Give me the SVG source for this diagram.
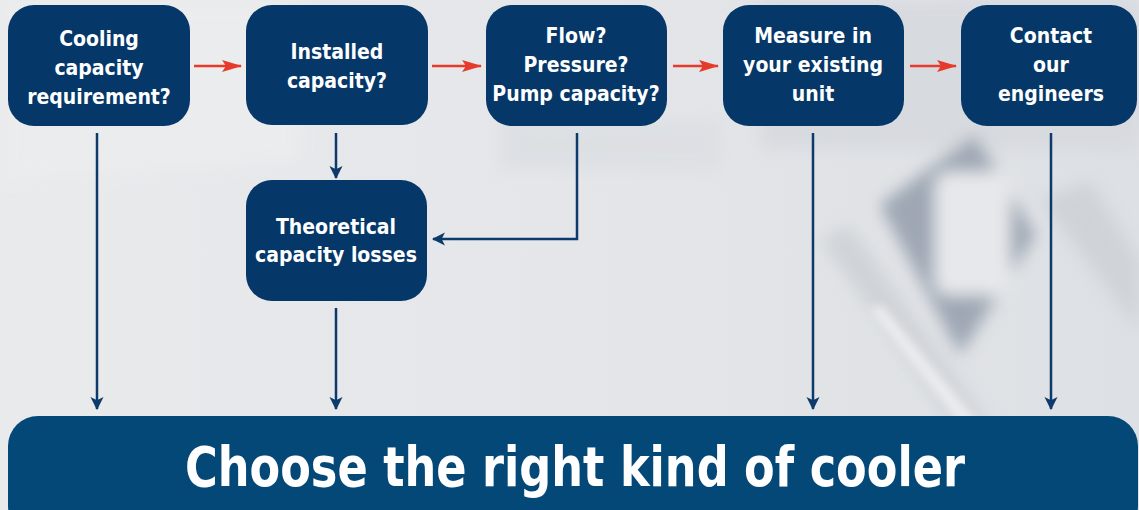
<svg xmlns="http://www.w3.org/2000/svg" width="1139" height="510" viewBox="0 0 1139 510">
<defs>
<linearGradient id="bg" x1="0" y1="0" x2="1" y2="0">
<stop offset="0" stop-color="#e9eaec"/>
<stop offset="0.5" stop-color="#e4e6e9"/>
<stop offset="1" stop-color="#dde0e4"/>
</linearGradient>
<filter id="blur" x="-20%" y="-20%" width="140%" height="140%"><feGaussianBlur stdDeviation="8"/></filter>
<filter id="blur2" x="-20%" y="-20%" width="140%" height="140%"><feGaussianBlur stdDeviation="4"/></filter>
<marker id="ab" viewBox="0 0 12 20" refX="11" refY="10" markerWidth="13" markerHeight="22" markerUnits="userSpaceOnUse" orient="auto">
<path d="M0,4 L12,10 L0,16 L3,10 Z" fill="#0d3a6b"/>
</marker>
<marker id="ar" viewBox="0 0 20 12" refX="19" refY="6" markerWidth="20" markerHeight="12" markerUnits="userSpaceOnUse" orient="auto">
<path d="M0,0 L20,6 L0,12 L4,6 Z" fill="#e63a2b"/>
</marker>
<style>
.node rect{fill:#053768}
.node text{fill:#ffffff;font-family:"DejaVu Sans Condensed","DejaVu Sans",sans-serif;font-stretch:condensed;font-weight:bold;font-size:21px;text-anchor:middle}
.blue{stroke:#0d3a6b;stroke-width:2.5;fill:none;marker-end:url(#ab)}
.red{stroke:#e63a2b;stroke-width:2.5;fill:none;marker-end:url(#ar)}
</style>
</defs>
<rect width="1139" height="510" fill="url(#bg)"/>
<g filter="url(#blur)" opacity="0.85">
<rect x="500" y="120" width="220" height="50" fill="#dcdfe3"/>
<rect x="760" y="0" width="379" height="150" fill="#d6d9de"/>
<polygon points="880,205 975,135 1035,235 960,355" fill="#939dab"/>
<rect x="935" y="172" width="75" height="123" rx="14" fill="#e8eaed"/>
<polygon points="820,240 850,225 990,425 955,430" fill="#cdd1d6"/>
<polygon points="1040,200 1090,180 1139,260 1139,330" fill="#cdd1d6"/>
<polygon points="0,0 300,0 300,160 0,180" fill="#ecedee"/>
</g>
<g filter="url(#blur2)" opacity="0.8">
<polygon points="870,310 882,305 985,430 968,435" fill="#f0f1f3"/>
</g>
<g id="connectors">
<line class="red" x1="194" y1="66" x2="241" y2="66"/>
<line class="red" x1="432" y1="66" x2="481" y2="66"/>
<line class="red" x1="673" y1="66" x2="718" y2="66"/>
<line class="red" x1="910" y1="66" x2="956" y2="66"/>
<line class="blue" x1="97" y1="133" x2="97" y2="409"/>
<line class="blue" x1="336" y1="133" x2="336" y2="178"/>
<line class="blue" x1="336" y1="308" x2="336" y2="409"/>
<polyline class="blue" points="577,133 577,239 433,239"/>
<line class="blue" x1="813" y1="133" x2="813" y2="409"/>
<line class="blue" x1="1051" y1="133" x2="1051" y2="409"/>
</g>
<g id="n1" class="node">
<rect x="8" y="5" width="182" height="121" rx="26"/>
<text x="99" y="46">Cooling</text>
<text x="99" y="75">capacity</text>
<text x="99" y="104">requirement?</text>
</g>
<g id="n2" class="node">
<rect x="246" y="5" width="182" height="120" rx="26"/>
<text x="337" y="59">Installed</text>
<text x="337" y="88">capacity?</text>
</g>
<g id="n3" class="node">
<rect x="486" y="5" width="181" height="121" rx="26"/>
<text x="576" y="43">Flow?</text>
<text x="576" y="72">Pressure?</text>
<text x="576" y="101">Pump capacity?</text>
</g>
<g id="n4" class="node">
<rect x="723" y="5" width="181" height="121" rx="26"/>
<text x="813" y="43">Measure in</text>
<text x="813" y="72">your existing</text>
<text x="813" y="101">unit</text>
</g>
<g id="n5" class="node">
<rect x="961" y="5" width="176" height="121" rx="26"/>
<text x="1051" y="43">Contact</text>
<text x="1051" y="72">our</text>
<text x="1051" y="101">engineers</text>
</g>
<g id="n6" class="node">
<rect x="246" y="180" width="181" height="121" rx="26"/>
<text x="336" y="234">Theoretical</text>
<text x="336" y="262">capacity losses</text>
</g>
<g id="n7">
<rect x="8" y="416" width="1130" height="120" rx="30" fill="#044878"/>
<text x="575" y="486" fill="#ffffff" font-family="DejaVu Sans Condensed, DejaVu Sans, sans-serif" font-stretch="condensed" font-weight="bold" font-size="56" text-anchor="middle" textLength="780" lengthAdjust="spacingAndGlyphs">Choose the right kind of cooler</text>
</g>
</svg>
